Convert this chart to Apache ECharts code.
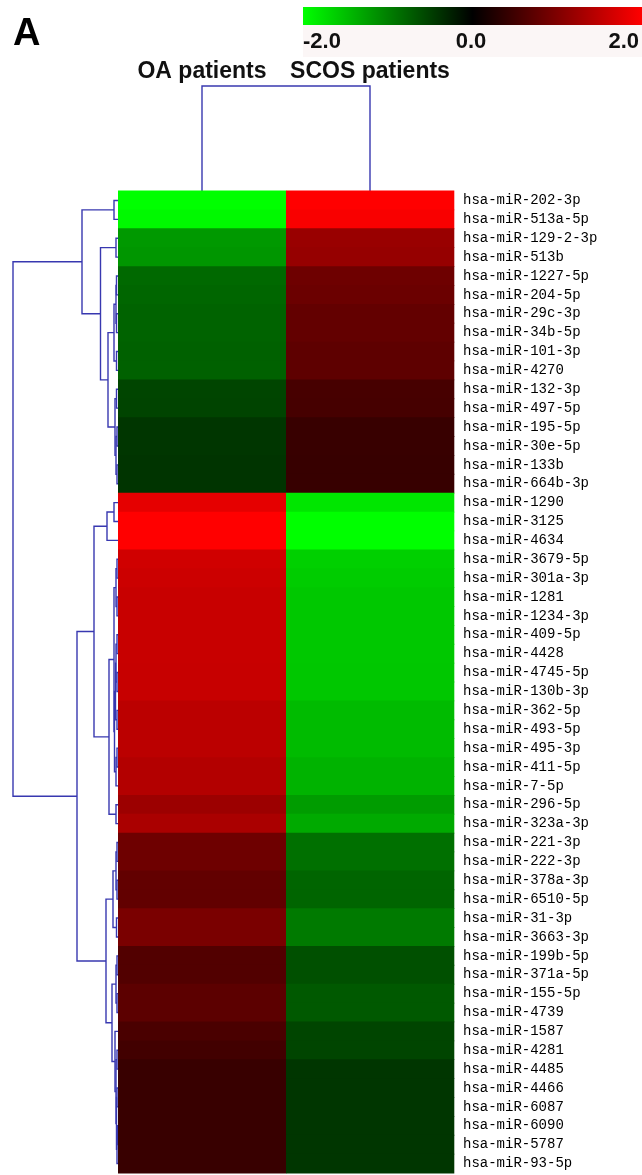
<!DOCTYPE html>
<html>
<head>
<meta charset="utf-8">
<script src="https://cdn.jsdelivr.net/npm/echarts@6/dist/echarts.min.js"></script>
<style>
  html, body { margin: 0; padding: 0; background: #fff; }
  #chart { width: 642px; height: 1175px; }
</style>
</head>
<body>
<div id="chart"></div>
<script>
// columns of the heatmap
const samples = ['OA patients', 'SCOS patients']

// miRNAs, top to bottom
const mirnas = [
  'hsa-miR-202-3p', 'hsa-miR-513a-5p', 'hsa-miR-129-2-3p', 'hsa-miR-513b',
  'hsa-miR-1227-5p', 'hsa-miR-204-5p', 'hsa-miR-29c-3p', 'hsa-miR-34b-5p',
  'hsa-miR-101-3p', 'hsa-miR-4270', 'hsa-miR-132-3p', 'hsa-miR-497-5p',
  'hsa-miR-195-5p', 'hsa-miR-30e-5p', 'hsa-miR-133b', 'hsa-miR-664b-3p',
  'hsa-miR-1290', 'hsa-miR-3125', 'hsa-miR-4634', 'hsa-miR-3679-5p',
  'hsa-miR-301a-3p', 'hsa-miR-1281', 'hsa-miR-1234-3p', 'hsa-miR-409-5p',
  'hsa-miR-4428', 'hsa-miR-4745-5p', 'hsa-miR-130b-3p', 'hsa-miR-362-5p',
  'hsa-miR-493-5p', 'hsa-miR-495-3p', 'hsa-miR-411-5p', 'hsa-miR-7-5p',
  'hsa-miR-296-5p', 'hsa-miR-323a-3p', 'hsa-miR-221-3p', 'hsa-miR-222-3p',
  'hsa-miR-378a-3p', 'hsa-miR-6510-5p', 'hsa-miR-31-3p', 'hsa-miR-3663-3p',
  'hsa-miR-199b-5p', 'hsa-miR-371a-5p', 'hsa-miR-155-5p', 'hsa-miR-4739',
  'hsa-miR-1587', 'hsa-miR-4281', 'hsa-miR-4485', 'hsa-miR-4466',
  'hsa-miR-6087', 'hsa-miR-6090', 'hsa-miR-5787', 'hsa-miR-93-5p'
]

// row-scaled expression
const oaValues = [
  -2.0, -1.95, -1.2, -1.18, -0.82, -0.8, -0.78, -0.78, -0.76, -0.76,
  -0.54, -0.53, -0.42, -0.42, -0.41, -0.41,
  1.8, 2.0, 2.0, 1.63, 1.6, 1.57, 1.57, 1.57, 1.57, 1.56, 1.56,
  1.47, 1.47, 1.47, 1.4, 1.4, 1.22, 1.33,
  0.86, 0.86, 0.77, 0.77, 0.96, 0.96, 0.64, 0.64, 0.72, 0.72,
  0.58, 0.52, 0.44, 0.44, 0.44, 0.44, 0.44, 0.44
]
const scosValues = [
  2.0, 1.95, 1.2, 1.18, 0.86, 0.84, 0.78, 0.78, 0.74, 0.74,
  0.56, 0.55, 0.44, 0.44, 0.43, 0.43,
  -1.8, -2.0, -2.0, -1.63, -1.6, -1.57, -1.57, -1.57, -1.57, -1.56, -1.56,
  -1.47, -1.47, -1.47, -1.4, -1.4, -1.22, -1.33,
  -0.88, -0.88, -0.79, -0.79, -0.96, -0.96, -0.63, -0.63, -0.7, -0.7,
  -0.54, -0.54, -0.42, -0.42, -0.42, -0.42, -0.42, -0.42
]

const scaleTicks = [-2, 0, 2]

// row clustering: [height, left, right], leaves are row indexes
const rowTree = [10.5,
  [3.6,
    [0.4, 0, 1],
    [1.75,
      [0.2, 2, 3],
      [1.0,
        [0.4, [0.2, [0.15, 4, 5], [0.15, 6, 7]], [0.15, 8, 9]],
        [0.3, [0.15, 10, 11], [0.2, [0.1, 12, 13], [0.1, 14, 15]]]
      ]
    ]
  ],
  [4.1,
    [2.4,
      [1.1, [0.4, 16, 17], 18],
      [0.9,
        [0.4,
          [0.2, [0.1, 19, 20], [0.1, 21, 22]],
          [0.35,
            [0.25, [0.2, [0.1, 23, 24], [0.1, 25, 26]], [0.1, 27, 28]],
            [0.2, [0.1, 29, 30], 31]
          ]
        ],
        [0.2, 32, 33]
      ]
    ],
    [1.2,
      [0.5, [0.2, [0.1, 34, 35], [0.1, 36, 37]], [0.15, 38, 39]],
      [0.6,
        [0.2, [0.1, 40, 41], [0.1, 42, 43]],
        [0.3, 44, [0.2, [0.1, 45, 46], [0.15, [0.1, 47, 48], [0.1, [0.05, 49, 50], 51]]]]
      ]
    ]
  ]
]
// column clustering height
const colHeight = 10.5

const TREE_COLOR = '#3838b0'

// flatten tree into links [hL, yL, hR, yR, hP]
function walk(node, out) {
  if (typeof node === 'number') return { h: 0, y: node + 0.5 }
  const l = walk(node[1], out)
  const r = walk(node[2], out)
  out.push([l.h, l.y, r.h, r.y, node[0]])
  return { h: node[0], y: (l.y + r.y) / 2 }
}
const rowLinks = []
walk(rowTree, rowLinks)

const heatData = []
mirnas.forEach((m, i) => {
  heatData.push([0, i, oaValues[i]])
  heatData.push([1, i, scosValues[i]])
})

const chart = echarts.init(document.getElementById('chart'))
const hmTop = 191
const hmHeight = 982

chart.setOption({
  backgroundColor: '#fff',
  animation: false,
  title: {
    text: 'A',
    left: 8,
    top: 11,
    textStyle: { fontSize: 38, fontWeight: 'bold', fontFamily: 'Liberation Sans', color: '#000' }
  },
  graphic: [
    {
      type: 'rect',
      shape: { x: 303, y: 25, width: 339, height: 32 },
      style: { fill: '#fbf6f6' },
      z: -1
    },
    {
      type: 'rect',
      shape: { x: 303, y: 7, width: 339, height: 18 },
      style: {
        fill: new echarts.graphic.LinearGradient(0, 0, 1, 0, [
          { offset: 0, color: '#00ff00' },
          { offset: 0.5, color: '#000000' },
          { offset: 1, color: '#ff0000' }
        ])
      }
    }
  ],
  visualMap: {
    type: 'continuous',
    show: false,
    min: -2,
    max: 2,
    dimension: 2,
    seriesIndex: 0,
    inRange: { color: ['#00ff00', '#000000', '#ff0000'] }
  },
  grid: [
    { left: 118, top: hmTop, width: 336, height: hmHeight },  // heatmap
    { left: 13, top: hmTop, width: 105, height: hmHeight },   // row tree
    { left: 118, top: 86, width: 336, height: 105 },          // column tree
    { left: 303, top: 22, width: 339, height: 5 }             // colour scale labels
  ],
  xAxis: [
    {
      gridIndex: 0,
      type: 'category',
      data: samples,
      position: 'top',
      axisLine: { show: false },
      axisTick: { show: false },
      axisLabel: {
        interval: 0,
        hideOverlap: false,
        margin: 108,
        fontSize: 23,
        fontWeight: 'bold',
        fontFamily: 'Liberation Sans',
        color: '#111'
      }
    },
    { gridIndex: 1, type: 'value', min: 0, max: 10.5, inverse: true, show: false },
    { gridIndex: 2, type: 'category', data: samples, show: false },
    {
      gridIndex: 3,
      type: 'value',
      min: scaleTicks[0],
      max: scaleTicks[scaleTicks.length - 1],
      interval: 2,
      axisLine: { show: false },
      axisTick: { show: false },
      splitLine: { show: false },
      axisLabel: {
        margin: 4,
        fontSize: 22,
        fontWeight: 'bold',
        fontFamily: 'Liberation Sans',
        color: '#111',
        alignMinLabel: 'left',
        alignMaxLabel: 'right',
        formatter: v => v.toFixed(1)
      }
    }
  ],
  yAxis: [
    {
      gridIndex: 0,
      type: 'category',
      data: mirnas,
      inverse: true,
      position: 'right',
      axisLine: { show: false },
      axisTick: { show: false },
      axisLabel: {
        interval: 0,
        margin: 9,
        fontSize: 14,
        fontFamily: 'Liberation Mono',
        color: '#000'
      }
    },
    { gridIndex: 1, type: 'value', min: 0, max: mirnas.length, inverse: true, show: false },
    { gridIndex: 2, type: 'value', min: 0, max: colHeight, show: false },
    { gridIndex: 3, type: 'value', show: false }
  ],
  series: [
    {
      // heatmap cells, drawn a hair taller so neighbouring rows don't show seams
      type: 'custom',
      xAxisIndex: 0,
      yAxisIndex: 0,
      data: heatData,
      encode: { x: 0, y: 1 },
      renderItem(params, api) {
        const p = api.coord([api.value(0), api.value(1)])
        const size = api.size([1, 1])
        return {
          type: 'rect',
          shape: {
            x: p[0] - size[0] / 2,
            y: p[1] - size[1] / 2 - 0.4,
            width: size[0] + 0.3,
            height: size[1] + 0.8
          },
          style: { fill: api.visual('color') }
        }
      }
    },
    {
      type: 'custom',
      xAxisIndex: 1,
      yAxisIndex: 1,
      data: rowLinks,
      encode: { x: [0, 2, 4], y: [1, 3] },
      renderItem(params, api) {
        const hL = api.value(0), yL = api.value(1)
        const hR = api.value(2), yR = api.value(3)
        const hP = api.value(4)
        return {
          type: 'polyline',
          shape: {
            points: [
              api.coord([hL, yL]),
              api.coord([hP, yL]),
              api.coord([hP, yR]),
              api.coord([hR, yR])
            ]
          },
          style: { stroke: TREE_COLOR, lineWidth: 1.4, fill: null }
        }
      },
      z: 1
    },
    {
      type: 'custom',
      xAxisIndex: 2,
      yAxisIndex: 2,
      data: [[0, 1, colHeight]],
      encode: { x: [0, 1], y: 2 },
      renderItem(params, api) {
        const h = api.value(2)
        return {
          type: 'polyline',
          shape: {
            points: [
              api.coord([0, 0]),
              api.coord([0, h]),
              api.coord([1, h]),
              api.coord([1, 0])
            ]
          },
          style: { stroke: TREE_COLOR, lineWidth: 1.4, fill: null }
        }
      },
      z: 1
    }
  ]
})
</script>
</body>
</html>
